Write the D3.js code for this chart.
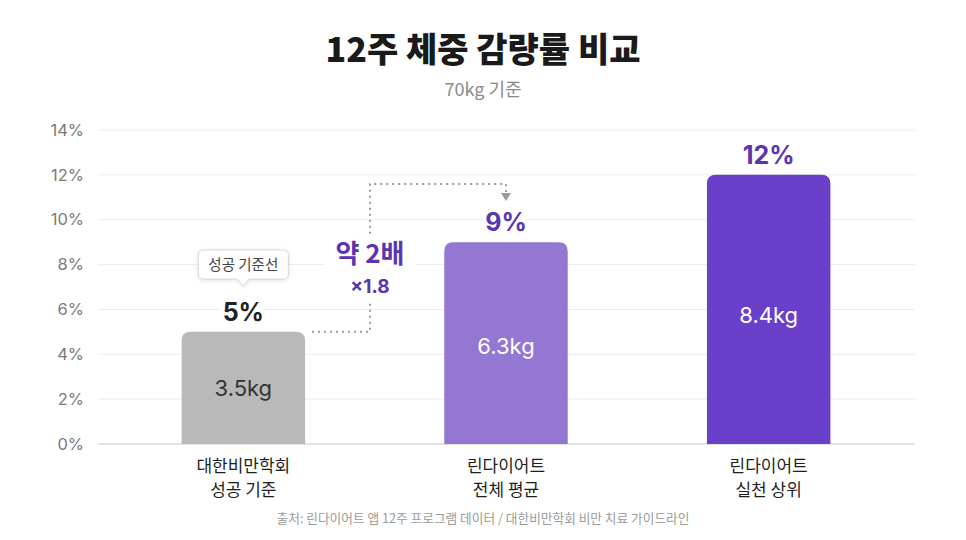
<!DOCTYPE html>
<html><head><meta charset="utf-8">
<script src="https://cdn.jsdelivr.net/npm/d3@7"></script>
<style>
html,body{margin:0;padding:0;background:#fff;}
svg{display:block;font-family:"Noto Sans CJK KR","Noto Sans",sans-serif;}
</style></head>
<body>
<svg id="c" width="966" height="540"></svg>
<script>
const categories = ["대한비만학회|성공 기준", "린다이어트|전체 평균", "린다이어트|실천 상위"];
const values = [5, 9, 12];
const kgLabels = ["3.5kg", "6.3kg", "8.4kg"];
const yTicks = [0, 2, 4, 6, 8, 10, 12, 14];
const barColors = ["#b9b9b9", "#9377d3", "#6a3fc9"];
const valueColors = ["#222222", "#5b34b0", "#5b34b0"];
const kgColors = ["#333333", "#ffffff", "#ffffff"];

const svg = d3.select("#c");
const x = d3.scaleBand().domain(categories).range([112, 900]).paddingInner(0.53).paddingOuter(0.265);
const y = d3.scaleLinear().domain([0, 14]).range([444, 130]);

// title
svg.append("text").attr("x", 483).attr("y", 62).attr("text-anchor", "middle")
  .attr("font-size", 34).attr("font-weight", 800).attr("fill", "#1a1a1a").text("12주 체중 감량률 비교");
svg.append("text").attr("x", 483).attr("y", 96).attr("text-anchor", "middle")
  .attr("font-size", 18).attr("fill", "#8a8a8a").text("70kg 기준");

// grid
const yAxis = d3.axisLeft(y).tickValues(yTicks).tickFormat(d => d + "%").tickSize(0).tickPadding(14);
const gy = svg.append("g").attr("transform", "translate(98,0)").call(yAxis);
gy.select(".domain").remove();
gy.selectAll("text").attr("font-size", 16.5).attr("fill", "#7a7a7a").attr("font-family", "Inter, 'Noto Sans', sans-serif");
svg.append("g").selectAll("line").data(yTicks).join("line")
  .attr("x1", 98).attr("x2", 915).attr("y1", d => y(d)).attr("y2", d => y(d))
  .attr("stroke", d => d === 0 ? "#e2e2e2" : "#ececec").attr("stroke-width", d => d === 0 ? 2 : 1);

// bars (rounded top)
const r = 9;
function barPath(x0, w, yt, yb) {
  return `M${x0},${yb}V${yt + r}Q${x0},${yt} ${x0 + r},${yt}H${x0 + w - r}Q${x0 + w},${yt} ${x0 + w},${yt + r}V${yb}Z`;
}
svg.append("g").selectAll("path").data(categories).join("path")
  .attr("d", (c, i) => barPath(x(c), x.bandwidth(), y(values[i]), y(0)))
  .attr("fill", (c, i) => barColors[i]);

// kg labels
svg.append("g").selectAll("text").data(categories).join("text")
  .attr("x", c => x(c) + x.bandwidth() / 2)
  .attr("y", (c, i) => (y(values[i]) + y(0)) / 2 + 8 + i * 3)
  .attr("text-anchor", "middle").attr("font-size", 22).attr("font-family", "Inter, 'Noto Sans', sans-serif")
  .attr("fill", (c, i) => kgColors[i]).text((c, i) => kgLabels[i]);

// value labels
svg.append("g").selectAll("text").data(categories).join("text")
  .attr("x", c => x(c) + x.bandwidth() / 2)
  .attr("y", (c, i) => y(values[i]) - 11)
  .attr("text-anchor", "middle").attr("font-size", 25).attr("font-weight", 700)
  .attr("font-family", "Inter, 'Noto Sans', sans-serif")
  .attr("stroke", "#fff").attr("stroke-width", 8).attr("paint-order", "stroke")
  .attr("fill", (c, i) => valueColors[i]).text((c, i) => values[i] + "%");

// x labels
const xl = svg.append("g").selectAll("text").data(categories).join("text")
  .attr("x", c => x(c) + x.bandwidth() / 2).attr("y", 472)
  .attr("text-anchor", "middle").attr("font-size", 17).attr("fill", "#1e1e1e");
xl.each(function (c) {
  const parts = c.split("|");
  d3.select(this).selectAll("tspan").data(parts).join("tspan")
    .attr("x", x(c) + x.bandwidth() / 2).attr("dy", (d, j) => j === 0 ? 0 : 24).text(d => d);
});

// connector
const c0 = categories[0], c1 = categories[1];
const xs = x(c0) + x.bandwidth() + 7, xm = 370, xe = x(c1) + x.bandwidth() / 2;
const yLow = y(values[0]), yHigh = 184;
svg.append("path")
  .attr("d", `M${xs},${yLow}H${xm}V${yHigh}H${xe}V${yHigh + 8}`)
  .attr("fill", "none").attr("stroke", "#9a9a9a").attr("stroke-width", 2).attr("stroke-dasharray", "2,4");
svg.append("path").attr("d", `M${xe - 5},${yHigh + 9}L${xe + 5},${yHigh + 9}L${xe},${yHigh + 17}Z`).attr("fill", "#9a9a9a");
svg.append("rect").attr("x", 325).attr("y", 234).attr("width", 90).attr("height", 68).attr("fill", "#fff");
svg.append("text").attr("x", xm).attr("y", 263).attr("text-anchor", "middle")
  .attr("font-size", 26).attr("font-weight", 700).attr("fill", "#5b34b0").text("약 2배");
svg.append("text").attr("x", xm).attr("y", 293).attr("text-anchor", "middle")
  .attr("font-size", 19).attr("font-weight", 700).attr("fill", "#5b34b0")
  .attr("font-family", "Inter, 'Noto Sans', sans-serif").text("×1.8");

// tooltip
const tx = x(c0) + x.bandwidth() / 2;
const tip = svg.append("g");
tip.append("path")
  .attr("d", `M${tx - 40},250 H${tx + 40} Q${tx + 45},250 ${tx + 45},255 V274 Q${tx + 45},279 ${tx + 40},279 H${tx + 6} L${tx},286 L${tx - 6},279 H${tx - 40} Q${tx - 45},279 ${tx - 45},274 V255 Q${tx - 45},250 ${tx - 40},250 Z`)
  .attr("fill", "#fff").attr("stroke", "#d8d8d8").attr("stroke-width", 1)
  .style("filter", "drop-shadow(0 1px 2px rgba(0,0,0,0.12))");
tip.append("text").attr("x", tx).attr("y", 270).attr("text-anchor", "middle")
  .attr("font-size", 14.5).attr("fill", "#444").text("성공 기준선");

// footer
svg.append("text").attr("x", 483).attr("y", 523).attr("text-anchor", "middle")
  .attr("font-size", 12.7).attr("fill", "#9a9a9a")
  .text("출처: 린다이어트 앱 12주 프로그램 데이터 / 대한비만학회 비만 치료 가이드라인");
</script>
</body></html>
